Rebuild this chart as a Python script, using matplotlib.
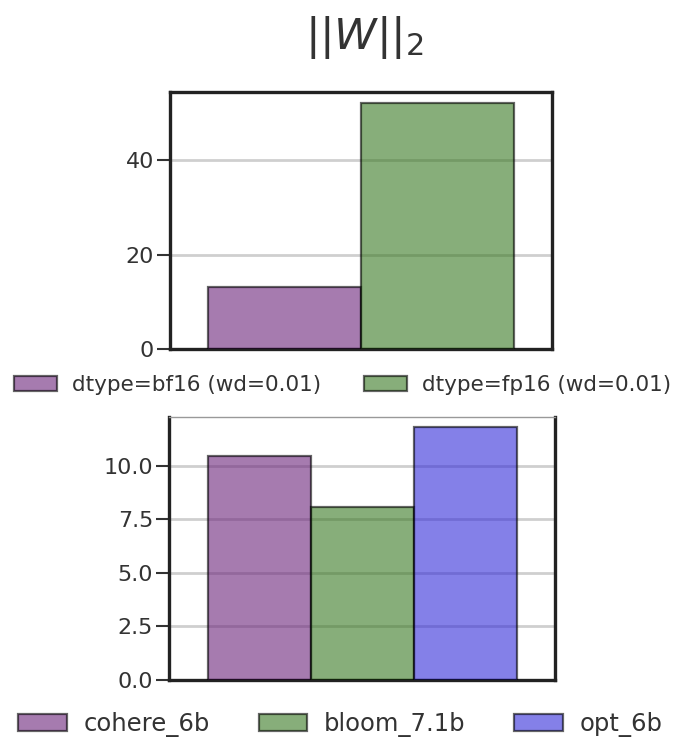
import matplotlib.pyplot as plt
import numpy as np

# top panel: weight norm by dtype
dtype_labels = ['dtype=bf16 (wd=0.01)', 'dtype=fp16 (wd=0.01)']
dtype_norms = [13.2, 52.1]

# bottom panel: weight norm by model
model_labels = ['cohere_6b', 'bloom_7.1b', 'opt_6b']
model_norms = [10.45, 8.1, 11.8]

colors = ['#6b237b', '#377821', '#322bd9']
text_col = '#333333'

fig = plt.figure(figsize=(6.81, 7.47), dpi=100)
ax1 = fig.add_axes([0.2496, 0.5328, 0.561, 0.344])
ax2 = fig.add_axes([0.2482, 0.0897, 0.567, 0.3521])


def bar_panel(ax, labels, values, ylim, yticks, ticklabels):
    n = len(values)
    w = 0.8 / n
    xs = (np.arange(n) - (n - 1) / 2) * w
    handles = []
    for x, v, lab, c in zip(xs, values, labels, colors):
        h = ax.bar(x, v, width=w, color=c, edgecolor='black', linewidth=1.6,
                   alpha=0.6, label=lab, zorder=3)
        handles.append(h)
    ax.set_xlim(-0.5, 0.5)
    ax.set_ylim(*ylim)
    ax.set_xticks([])
    ax.set_yticks(yticks)
    ax.set_yticklabels(ticklabels)
    ax.yaxis.grid(True, color='#cfcfcf', linewidth=2, zorder=0)
    ax.set_axisbelow(True)
    ax.tick_params(axis='y', labelsize=16, colors=text_col, length=9.5, width=1.5,
                   pad=2, labelcolor=text_col)
    for s in ax.spines.values():
        s.set_linewidth(2.4)
        s.set_color('#222222')
    return handles


h1 = bar_panel(ax1, dtype_labels, dtype_norms, (0, 54.4), [0, 20, 40], ['0', '20', '40'])
h2 = bar_panel(ax2, model_labels, model_norms, (0, 12.29), [0, 2.5, 5, 7.5, 10],
               ['0.0', '2.5', '5.0', '7.5', '10.0'])
ax2.spines['top'].set_linewidth(1)
ax2.spines['top'].set_color('#999999')

fig.text(0.535, 0.95, r'$||W||_2$', fontsize=31, ha='center', va='center', color=text_col)

leg1 = fig.legend(handles=h1, loc='center', bbox_to_anchor=(0.503, 0.4846), ncol=2,
                  frameon=False, fontsize=15.5, handletextpad=0.7, columnspacing=2.0)
leg2 = fig.legend(handles=h2, loc='center', bbox_to_anchor=(0.5, 0.0295), ncol=3,
                  frameon=False, fontsize=17.5, handletextpad=0.7, columnspacing=2.0)
for leg in (leg1, leg2):
    for t in leg.get_texts():
        t.set_color(text_col)

fig.savefig('out.png', dpi=100)
